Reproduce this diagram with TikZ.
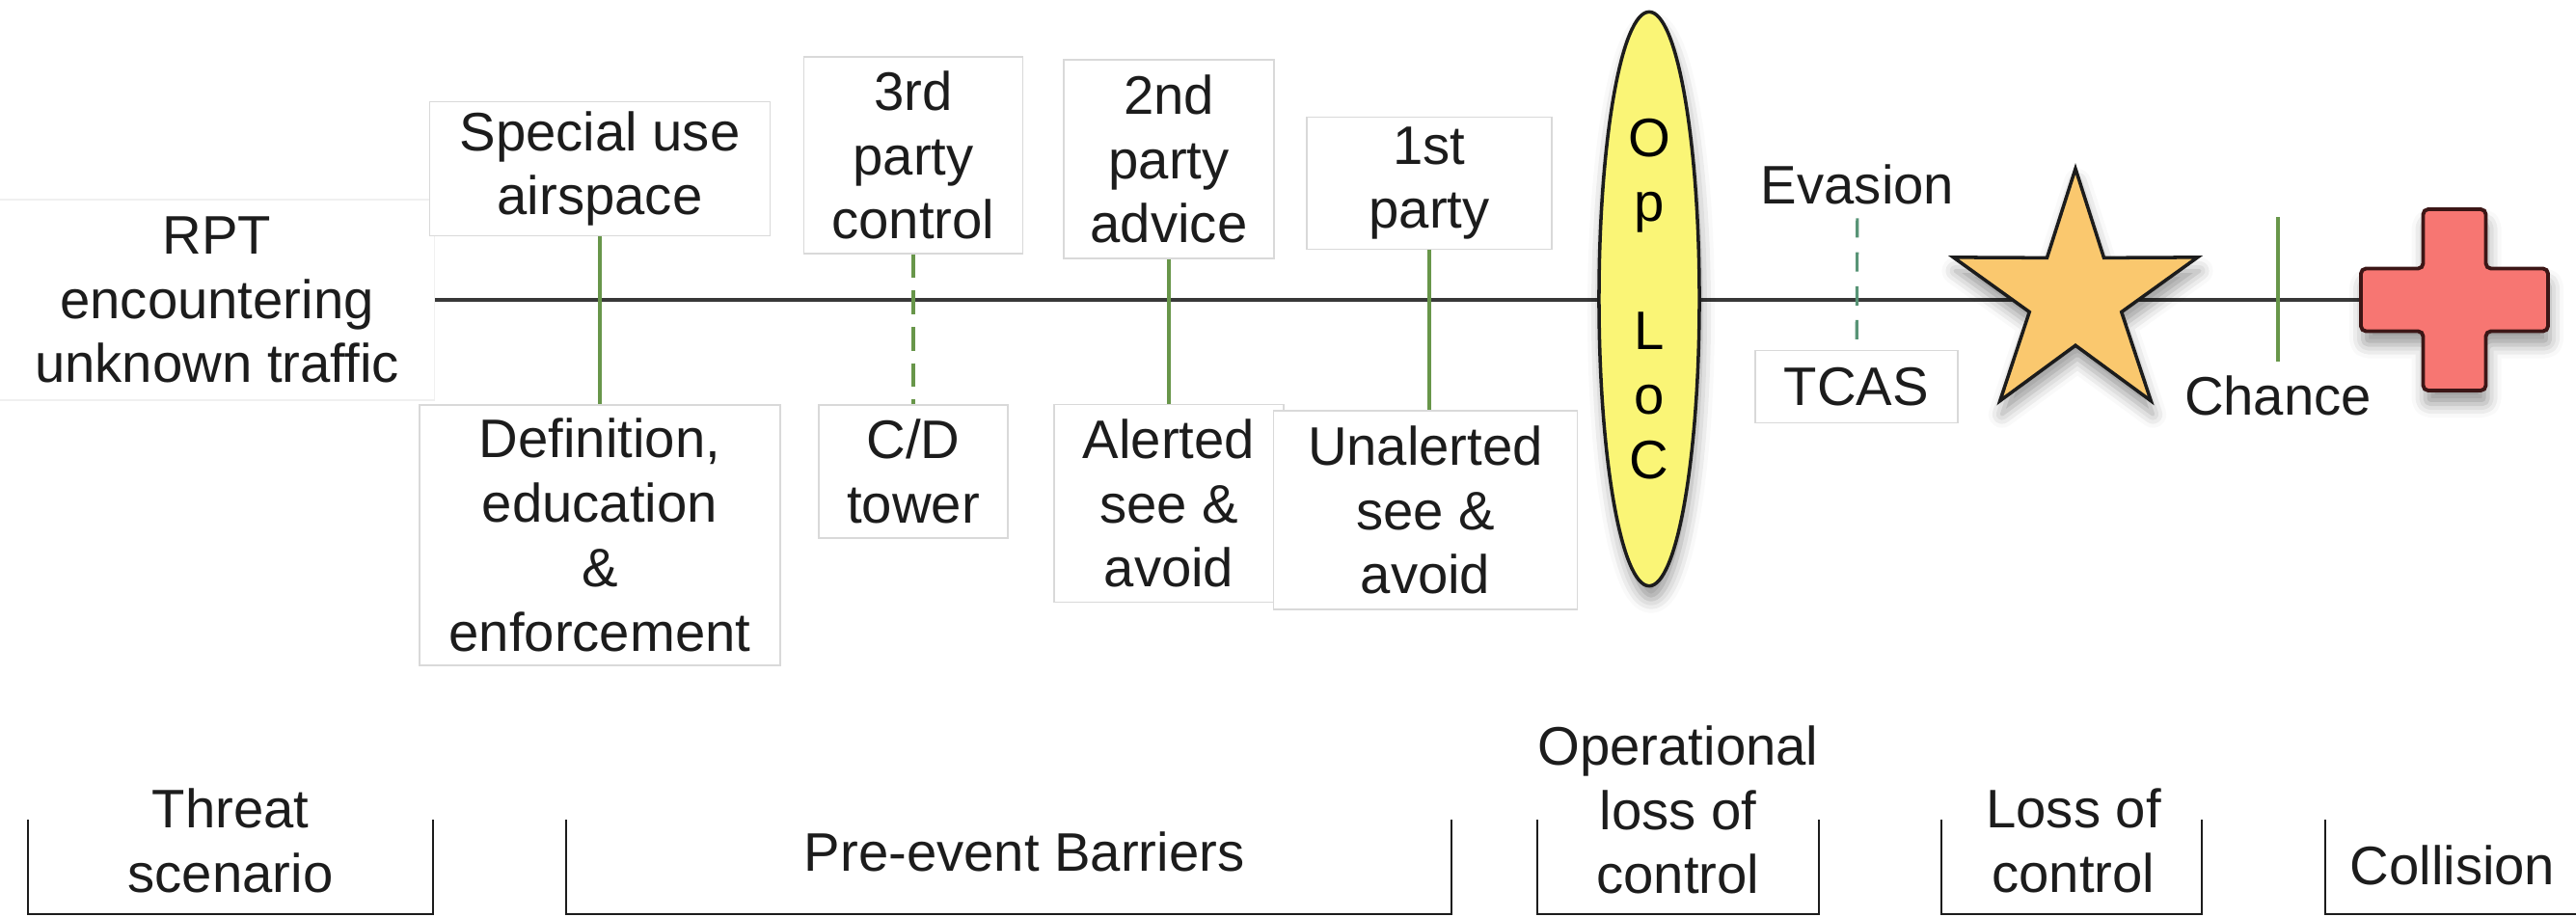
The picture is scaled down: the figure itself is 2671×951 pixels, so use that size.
\documentclass[tikz,border=0pt]{standalone}
\usepackage{fontspec}
\setmainfont{Liberation Sans}
\usetikzlibrary{shapes,shadows,shadows.blur,backgrounds}

\definecolor{ink}{RGB}{28,28,28}
\definecolor{barriergreen}{RGB}{104,150,74}
\definecolor{evadeteal}{RGB}{88,148,118}
\definecolor{locyellow}{RGB}{250,245,118}
\definecolor{hazardfill}{RGB}{250,200,110}
\definecolor{crashfill}{RGB}{247,118,114}
\definecolor{crashedge}{RGB}{60,22,22}

\tikzset{
  barrier/.style={draw=black!15, line width=0.4pt, fill=white, align=center, inner sep=0pt, text=ink},
  stagetext/.style={align=center, inner sep=4pt, text=ink},
  barline/.style={barriergreen, line width=0.9pt},
  weakline/.style={barline, dash pattern=on 7pt off 3.7pt},
  timeline/.style={black!78, line width=1.2pt},
  bracketline/.style={ink, line width=0.7pt},
  softshadow/.style={blur shadow={shadow xshift=0.02cm, shadow yshift=-0.14cm, shadow blur radius=0.14cm, shadow opacity=40}},
}

\begin{document}
\begin{tikzpicture}[x=0.01cm, y=-0.01cm]
\fontsize{16}{19}\selectfont
\useasboundingbox (0,0) rectangle (2671,951);

\node[barrier, draw=black!6, minimum width=4.51cm, minimum height=2.08cm] (rpt) at (225,311) {RPT\\encountering\\unknown traffic};

\node[barrier, minimum width=3.53cm, minimum height=1.39cm] (sua) at (622,175) {Special use\\airspace};
\node[barrier, minimum width=3.74cm, minimum height=2.70cm] (dee) at (622,555) {Definition,\\education\\\&\\enforcement};
\node[barrier, minimum width=2.27cm, minimum height=2.04cm] (tpc) at (947,161) {3rd\\party\\control};
\node[barrier, minimum width=1.96cm, minimum height=1.38cm] (cdt) at (947,489) {C/D\\tower};
\node[barrier, minimum width=2.18cm, minimum height=2.06cm] (spa) at (1212,165) {2nd\\party\\advice};
\node[barrier, minimum width=2.38cm, minimum height=2.05cm] (asa) at (1212,522) {Alerted\\see \&\\avoid};
\node[barrier, minimum width=2.54cm, minimum height=1.37cm] (fpa) at (1482,190) {1st\\party};
\node[barrier, minimum width=3.15cm, minimum height=2.06cm] (usa) at (1478,529) {Unalerted\\see \&\\avoid};

\node[ellipse, draw=ink, line width=1pt, fill=locyellow, softshadow, minimum width=1.04cm, minimum height=5.95cm, inner sep=0pt, align=center] (oploc) at (1710,310) {O\\p\\\mbox{}\\L\\o\\C};

\node[stagetext] (evasion) at (1926,191) {Evasion};
\node[barrier, minimum width=2.10cm, minimum height=0.75cm] (tcas) at (1925,401) {TCAS};
\node[star, star points=5, star point ratio=2.65, minimum size=2.66cm, inner sep=0pt, draw=ink, line width=1pt, fill=hazardfill, softshadow] (hazard) at (2152,308) {};
\node[stagetext] (chance) at (2362,410) {Chance};
\coordinate (chancetop) at (2362,225);
\coordinate (crash) at (2545,311);
\draw[crashedge, line width=1.1pt, fill=crashfill, softshadow, rounded corners=1.5pt, shift={(crash)}]
  (-32.5,-94) -- (32.5,-94) -- (32.5,-32.5) -- (97,-32.5) -- (97,32.5) -- (32.5,32.5) -- (32.5,94)
  -- (-32.5,94) -- (-32.5,32.5) -- (-97,32.5) -- (-97,-32.5) -- (-32.5,-32.5) -- cycle;

\begin{pgfonlayer}{background}
\draw[timeline] (rpt.east) -- (crash);
\end{pgfonlayer}

\draw[barline] (sua) -- (dee);
\draw[weakline] (tpc) -- (cdt);
\draw[barline] (spa) -- (asa);
\draw[barline] (fpa.south) -- (fpa.south |- usa.north);
\draw[barline, evadeteal, dash pattern=on 5.7pt off 4.3pt] (evasion) -- (tcas);
\draw[barline] (chancetop) -- (chance);

\foreach \l/\r in {29/449, 587/1505, 1594/1886, 2013/2283}
  \draw[bracketline] (\l,850) -- (\l,948) -- (\r,948) -- (\r,850);
\draw[bracketline] (2411,850) -- (2411,948) -- (2671,948);

\node[stagetext] (threat) at (239,872) {Threat\\scenario};
\node[stagetext] (preevent) at (1062,883) {Pre-event Barriers};
\node[stagetext] (oplossctl) at (1740,840) {Operational\\loss of\\control};
\node[stagetext] (lossctl) at (2150,872) {Loss of\\control};
\node[stagetext] (collision) at (2543,897) {Collision};
\end{tikzpicture}
\end{document}
